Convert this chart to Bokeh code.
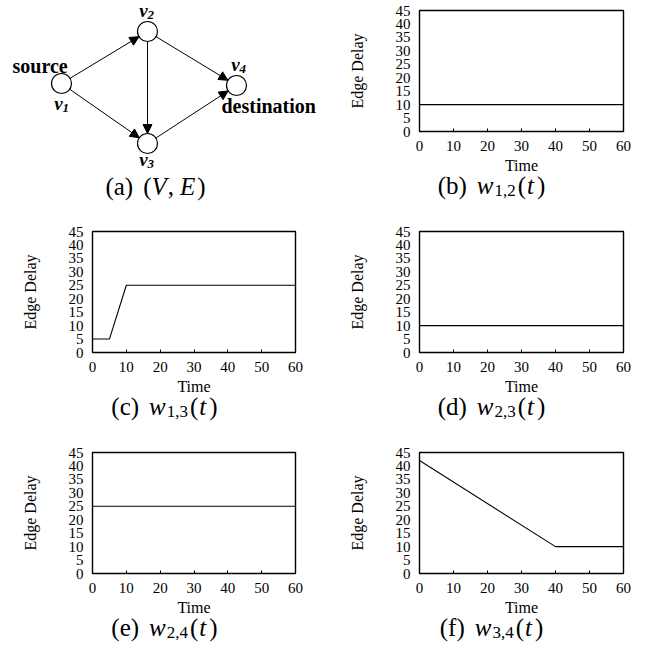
import math
from bokeh.plotting import figure
from bokeh.layouts import column, row
from bokeh.models import Range1d, FixedTicker, Arrow, NormalHead, ColumnDataSource
from bokeh.embed import file_html
from bokeh.resources import INLINE
from bokeh.core.properties import value

# ---------------- data ----------------
x_ticks = [0, 10, 20, 30, 40, 50, 60]
y_ticks = [0, 5, 10, 15, 20, 25, 30, 35, 40, 45]

time_w12 = [0, 60]
delay_w12 = [10, 10]
time_w13 = [0, 5, 10, 60]
delay_w13 = [5, 5, 25, 25]
time_w23 = [0, 60]
delay_w23 = [10, 10]
time_w24 = [0, 60]
delay_w24 = [25, 25]
time_w34 = [0, 40, 60]
delay_w34 = [42, 10, 10]

node_names = ["v1", "v2", "v3", "v4"]
node_subs = ["1", "2", "3", "4"]
edges = [("v1", "v2"), ("v1", "v3"), ("v2", "v3"), ("v2", "v4"), ("v3", "v4")]

x_title = "Time"
y_title = "Edge Delay"

FONT = "Liberation Serif"

# approximate Times advance widths (per 1000 em) for caption layout
W_REG = {"(": 333, ")": 333, "a": 444, "b": 500, "c": 444, "d": 500, "e": 444,
         "f": 333, " ": 250, ",": 250}
W_IT = {"w": 667, "t": 278, "V": 611, "E": 611}


def text_width(s, size, italic=False):
    tot = 0
    for ch in s:
        if ch.isdigit():
            tot += 500
        elif italic:
            tot += W_IT.get(ch, 500)
        else:
            tot += W_REG.get(ch, 500)
    return tot * size / 1000.0


def draw_caption(p, pieces, cx, base_y, ydown=False):
    # pieces: (text, size, italic, dy (subscript drop), gap_after)
    total = sum(text_width(t, s, it) + g for t, s, it, dy, g in pieces)
    x = cx - total / 2.0
    for t, s, it, dy, g in pieces:
        yy = base_y + dy if ydown else base_y - dy
        p.text([x], [yy], text=[t], text_font=value(FONT), text_font_size=f"{s}px",
               text_font_style="italic" if it else "normal", text_color="black",
               text_align="left", text_baseline="alphabetic")
        x += text_width(t, s, it) + g


def w_caption(letter, sub):
    return [(f"({letter})", 25, False, 0, 10),
            ("w", 25, True, 0, 1),
            (sub, 17, False, 5, 2),
            ("(", 25, False, 0, 1),
            ("t", 25, True, 0, 3),
            (")", 25, False, 0, 0)]


LEFT, RIGHT, TOP, BOTTOM = 92, 32, 10, 26
FRAME_H = 121
PLOT_H = TOP + FRAME_H + BOTTOM


def delay_panel(xs, ys, w, cap_h, letter, sub):
    p = figure(width=w, height=PLOT_H, x_range=Range1d(0, 60), y_range=Range1d(0, 45),
               output_backend="svg", toolbar_location=None, title=None,
               min_border_left=LEFT, min_border_right=RIGHT,
               min_border_top=TOP, min_border_bottom=BOTTOM,
               y_axis_label=y_title)
    p.line(xs, ys, line_color="black", line_width=1.1)
    p.grid.visible = False
    p.outline_line_color = "black"
    p.outline_line_width = 1.4
    p.background_fill_color = "white"
    p.border_fill_color = "white"
    p.xaxis.ticker = FixedTicker(ticks=x_ticks)
    p.yaxis.ticker = FixedTicker(ticks=y_ticks)
    for ax in (p.xaxis[0], p.yaxis[0]):
        ax.axis_line_color = None
        ax.minor_tick_line_color = None
        ax.major_tick_out = 0
        ax.major_label_text_font = FONT
        ax.major_label_text_font_size = "15px"
        ax.major_label_text_color = "black"
        ax.axis_label_text_font = FONT
        ax.axis_label_text_font_size = "16px"
        ax.axis_label_text_font_style = "normal"
        ax.axis_label_text_color = "black"
    p.xaxis.major_tick_in = 3
    p.xaxis.major_tick_line_color = "black"
    p.yaxis.major_tick_in = 0
    p.yaxis.major_tick_line_color = None
    p.xaxis.major_label_standoff = 9
    p.yaxis.major_label_standoff = 9
    p.yaxis.axis_label_standoff = 27

    # strip below the plot holding the x-axis title and the sub-figure caption
    fw = w - LEFT - RIGHT
    c = figure(width=w, height=cap_h, x_range=Range1d(0, fw), y_range=Range1d(0, cap_h),
               output_backend="svg", toolbar_location=None, title=None,
               x_axis_location=None, y_axis_location=None,
               min_border_left=LEFT, min_border_right=RIGHT, min_border_top=0, min_border_bottom=0)
    c.grid.visible = False
    c.outline_line_color = None
    c.background_fill_color = "white"
    c.border_fill_color = "white"
    c.text([fw / 2.0], [cap_h - 8], text=[x_title], text_font=value(FONT), text_font_size="16px",
           text_color="black", text_align="center", text_baseline="alphabetic")
    draw_caption(c, w_caption(letter, sub), 72, cap_h - 28)
    return column(p, c)


def graph_panel(w, h):
    p = figure(width=w, height=h, x_range=Range1d(0, w), y_range=Range1d(h, 0),
               output_backend="svg", toolbar_location=None, title=None,
               x_axis_location=None, y_axis_location=None, min_border=0)
    p.grid.visible = False
    p.outline_line_color = None
    p.background_fill_color = "white"
    p.border_fill_color = "white"
    # drawing layout of the graph (pixel positions inside the panel)
    pos = {"v1": (61, 83), "v2": (147, 31), "v3": (147, 143), "v4": (236, 85)}
    r = 10
    xs0, ys0, xs1, ys1 = [], [], [], []
    for a, b in edges:
        (x1, y1), (x2, y2) = pos[a], pos[b]
        d = math.hypot(x2 - x1, y2 - y1)
        ux, uy = (x2 - x1) / d, (y2 - y1) / d
        xs0.append(x1 + r * ux); ys0.append(y1 + r * uy)
        xs1.append(x2 - r * ux); ys1.append(y2 - r * uy)
    src = ColumnDataSource(dict(x0=xs0, y0=ys0, x1=xs1, y1=ys1))
    p.add_layout(Arrow(end=NormalHead(size=9, fill_color="black", line_color="black", line_width=1),
                       x_start="x0", y_start="y0", x_end="x1", y_end="y1", source=src,
                       line_color="black", line_width=1))
    p.circle([pos[n][0] for n in node_names], [pos[n][1] for n in node_names], radius=r,
             fill_color="white", line_color="black", line_width=1.2)
    # node labels
    lab = {"v1": (58, 103), "v2": (143, 10), "v3": (143, 159), "v4": (235, 64)}
    p.text([lab[n][0] for n in node_names], [lab[n][1] for n in node_names], text=["v"] * 4,
           text_font=value(FONT), text_font_size="19px", text_font_style="bold italic",
           text_align="center", text_baseline="middle", text_color="black")
    p.text([lab[n][0] + 4 for n in node_names], [lab[n][1] + 4 for n in node_names], text=node_subs,
           text_font=value(FONT), text_font_size="13px", text_font_style="bold italic",
           text_align="left", text_baseline="middle", text_color="black")
    p.text([12, 221], [65, 105], text=["source", "destination"],
           text_font=value(FONT), text_font_size="20px", text_font_style="bold",
           text_align="left", text_baseline="alphabetic", text_color="black")
    cap = [("(a)", 25, False, 0, 10), ("(", 25, False, 0, 0), ("V", 25, True, 0, 1),
           (",", 25, False, 0, 6), ("E", 25, True, 0, 2), (")", 25, False, 0, 0)]
    draw_caption(p, cap, 155, 186, ydown=True)
    return p


W1, W2 = 327, 328
H_ROW = 221
CAP12 = H_ROW - PLOT_H
CAP3 = 654 - 2 * H_ROW - PLOT_H

pa = graph_panel(W1, H_ROW)
pb = delay_panel(time_w12, delay_w12, W2, CAP12, "b", "1,2")
pc = delay_panel(time_w13, delay_w13, W1, CAP12, "c", "1,3")
pd = delay_panel(time_w23, delay_w23, W2, CAP12, "d", "2,3")
pe = delay_panel(time_w24, delay_w24, W1, CAP3, "e", "2,4")
pf = delay_panel(time_w34, delay_w34, W2, CAP3, "f", "3,4")

layout = column(row(column(pa), pb), row(pc, pd), row(pe, pf))

with open("out.html", "w") as f:
    f.write(file_html(layout, INLINE))
